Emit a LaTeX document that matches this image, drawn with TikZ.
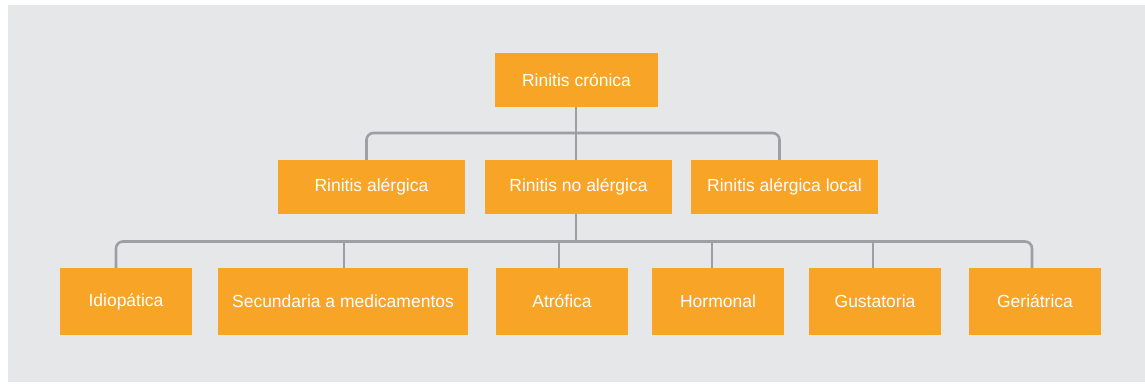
\documentclass[tikz,border=0pt]{standalone}
\usepackage{fontspec}
\setmainfont{Liberation Sans}
\definecolor{rinorange}{RGB}{247, 164, 39}
\definecolor{bggrey}{RGB}{230, 231, 232}
\definecolor{linegrey}{RGB}{157, 159, 162}
\usetikzlibrary{positioning, calc}
\tikzset{
  catbox/.style={fill=rinorange, text=white, inner sep=0pt, font=\fontsize{17.5}{20}\selectfont},
  tree/.style={draw=linegrey, line width=2.6pt, rounded corners=7pt}
}

\begin{document}
\begin{tikzpicture}[x=1pt, y=-1pt]
  % background
  \useasboundingbox (0,0) rectangle (1145,383);
  \fill[white] (0,0) rectangle (1145,383);
  \fill[bggrey] (8,5) rectangle (1145,382);

  % Rinitis crónica
  \node[catbox, minimum width=163pt, minimum height=54pt] (cronica) at (576.5, 80) {Rinitis crónica};

  % second level
  \node[catbox, minimum width=187pt, minimum height=54pt] (alergica) at (371.5, 187) {Rinitis alérgica};
  \node[catbox, minimum width=187pt, minimum height=54pt] (noalergica) at (578.5, 187) {Rinitis no alérgica};
  \node[catbox, minimum width=187pt, minimum height=54pt] (local) at (784.5, 187) {Rinitis alérgica local};

  % third level
  \node[catbox, minimum width=132pt, minimum height=67pt] (idio) at (126, 301.5) {Idiopática};
  \node[catbox, minimum width=250pt, minimum height=67pt] (secu) at (343, 301.5) {Secundaria a medicamentos};
  \node[catbox, minimum width=132pt, minimum height=67pt] (atro) at (562, 301.5) {Atrófica};
  \node[catbox, minimum width=132pt, minimum height=67pt] (horm) at (718, 301.5) {Hormonal};
  \node[catbox, minimum width=132pt, minimum height=67pt] (gust) at (875, 301.5) {Gustatoria};
  \node[catbox, minimum width=132pt, minimum height=67pt] (geri) at (1035, 301.5) {Geriátrica};

  % connectors
  \coordinate (barone) at (576, 133);
  \coordinate (bartwo) at (576, 241.5);
  \draw[tree] ([xshift=-5pt]alergica.north) |- (barone) -| ([xshift=-5pt]local.north);
  \draw[tree] (barone |- cronica.south) -- (barone |- noalergica.north);
  \draw[tree] (bartwo |- noalergica.south) -- (bartwo);
  \draw[tree] ([xshift=-10pt]idio.north) |- (bartwo) -| ([xshift=-3pt]geri.north);
  \foreach \n/\dx in {secu/1, atro/-3, horm/-6, gust/-2}
    \draw[tree] ([xshift=\dx pt]\n.north) -- ([xshift=\dx pt]\n.north |- bartwo);
\end{tikzpicture}
\end{document}
